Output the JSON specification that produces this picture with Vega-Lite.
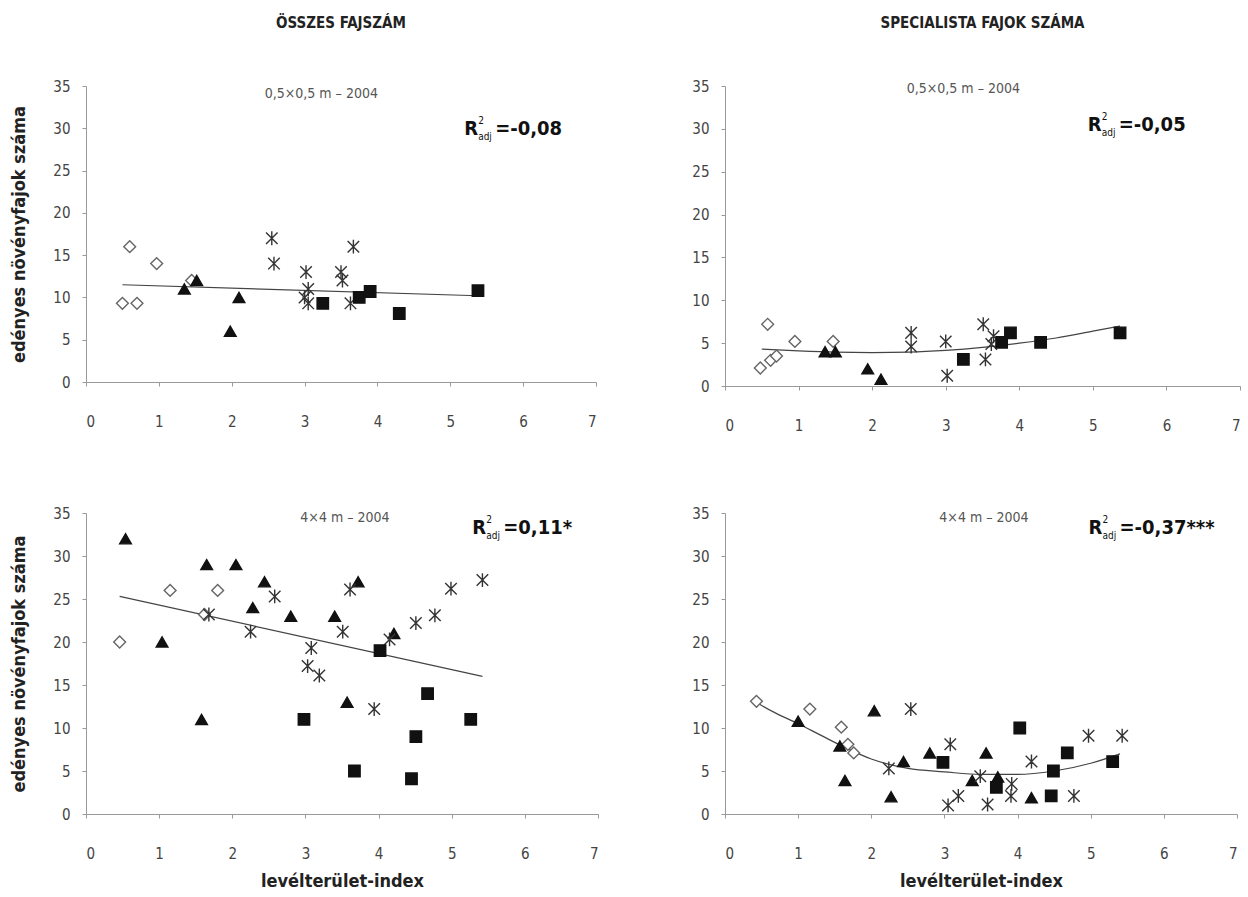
{
  "$schema": "https://vega.github.io/schema/vega-lite/v6.json",
  "background": "white",
  "padding": {"left": 10, "top": 16, "right": 5, "bottom": 5},
  "config": {
    "view": {"stroke": null},
    "font": "DejaVu Sans Condensed, Liberation Sans Narrow, sans-serif",
    "axis": {
      "grid": false,
      "domainColor": "#999999",
      "tickColor": "#999999",
      "tickSize": 4,
      "labelColor": "#444444",
      "labelFont": "DejaVu Sans Condensed, Liberation Sans Narrow, sans-serif",
      "labelFontSize": 15,
      "titleFont": "DejaVu Sans Condensed, Liberation Sans Narrow, sans-serif",
      "titleFontWeight": "bold",
      "titleFontSize": 18,
      "titleColor": "#222222"
    },
    "axisX": {"labelPadding": 28, "titlePadding": 11, "format": "d"},
    "axisY": {"labelPadding": 12, "titlePadding": 24},
    "title": {
      "font": "DejaVu Sans Condensed, Liberation Sans Narrow, sans-serif",
      "fontSize": 15,
      "fontWeight": "bold",
      "color": "#222222",
      "anchor": "middle",
      "offset": 48
    }
  },
  "datasets": {
    "tl": [
      {"lai": 0.6, "n": 16, "grp": "g1"},
      {"lai": 0.97, "n": 14, "grp": "g1"},
      {"lai": 0.5, "n": 9.3, "grp": "g1"},
      {"lai": 0.7, "n": 9.3, "grp": "g1"},
      {"lai": 1.45, "n": 12, "grp": "g1"},
      {"lai": 1.35, "n": 11, "grp": "g2"},
      {"lai": 1.52, "n": 12, "grp": "g2"},
      {"lai": 2.1, "n": 10, "grp": "g2"},
      {"lai": 1.98, "n": 6, "grp": "g2"},
      {"lai": 2.55, "n": 17, "grp": "g3"},
      {"lai": 2.58, "n": 14, "grp": "g3"},
      {"lai": 3.02, "n": 13, "grp": "g3"},
      {"lai": 3.05, "n": 11, "grp": "g3"},
      {"lai": 3.0, "n": 10, "grp": "g3"},
      {"lai": 3.05, "n": 9.3, "grp": "g3"},
      {"lai": 3.5, "n": 13, "grp": "g3"},
      {"lai": 3.52, "n": 12, "grp": "g3"},
      {"lai": 3.67, "n": 16, "grp": "g3"},
      {"lai": 3.63, "n": 9.3, "grp": "g3"},
      {"lai": 3.25, "n": 9.3, "grp": "g4"},
      {"lai": 3.75, "n": 10, "grp": "g4"},
      {"lai": 3.9, "n": 10.7, "grp": "g4"},
      {"lai": 4.3, "n": 8.1, "grp": "g4"},
      {"lai": 5.38, "n": 10.8, "grp": "g4"}
    ],
    "tlfit": [
      {"lai": 0.5, "n": 11.5},
      {"lai": 5.38, "n": 10.2}
    ],
    "tr": [
      {"lai": 0.58, "n": 7.2, "grp": "g1"},
      {"lai": 0.48, "n": 2.1, "grp": "g1"},
      {"lai": 0.62, "n": 3.0, "grp": "g1"},
      {"lai": 0.7, "n": 3.5, "grp": "g1"},
      {"lai": 0.95, "n": 5.2, "grp": "g1"},
      {"lai": 1.47, "n": 5.2, "grp": "g1"},
      {"lai": 1.36, "n": 4, "grp": "g2"},
      {"lai": 1.5, "n": 4, "grp": "g2"},
      {"lai": 1.94, "n": 2, "grp": "g2"},
      {"lai": 2.12, "n": 0.8, "grp": "g2"},
      {"lai": 2.53, "n": 6.2, "grp": "g3"},
      {"lai": 2.53, "n": 4.6, "grp": "g3"},
      {"lai": 3.0, "n": 5.2, "grp": "g3"},
      {"lai": 3.02, "n": 1.2, "grp": "g3"},
      {"lai": 3.51, "n": 7.2, "grp": "g3"},
      {"lai": 3.65, "n": 5.8, "grp": "g3"},
      {"lai": 3.54, "n": 3.1, "grp": "g3"},
      {"lai": 3.62, "n": 4.9, "grp": "g3"},
      {"lai": 3.24, "n": 3.1, "grp": "g4"},
      {"lai": 3.76, "n": 5.1, "grp": "g4"},
      {"lai": 3.88, "n": 6.2, "grp": "g4"},
      {"lai": 4.29, "n": 5.1, "grp": "g4"},
      {"lai": 5.37, "n": 6.2, "grp": "g4"}
    ],
    "trfit": [
      {"lai": 0.5, "n": 4.3},
      {"lai": 1.0, "n": 4.1},
      {"lai": 1.5, "n": 3.95},
      {"lai": 2.0, "n": 3.9},
      {"lai": 2.5, "n": 3.95},
      {"lai": 3.0, "n": 4.15},
      {"lai": 3.5, "n": 4.5},
      {"lai": 4.0, "n": 5.0},
      {"lai": 4.5, "n": 5.6},
      {"lai": 5.0, "n": 6.4},
      {"lai": 5.37, "n": 7.0}
    ],
    "bl": [
      {"lai": 0.46, "n": 20, "grp": "g1"},
      {"lai": 1.15, "n": 26, "grp": "g1"},
      {"lai": 1.8, "n": 26, "grp": "g1"},
      {"lai": 1.62, "n": 23.2, "grp": "g1"},
      {"lai": 0.54, "n": 32, "grp": "g2"},
      {"lai": 1.04, "n": 20, "grp": "g2"},
      {"lai": 1.65, "n": 29, "grp": "g2"},
      {"lai": 2.05, "n": 29, "grp": "g2"},
      {"lai": 2.44, "n": 27, "grp": "g2"},
      {"lai": 2.28, "n": 24, "grp": "g2"},
      {"lai": 2.8, "n": 23, "grp": "g2"},
      {"lai": 3.4, "n": 23, "grp": "g2"},
      {"lai": 3.72, "n": 27, "grp": "g2"},
      {"lai": 4.21, "n": 21, "grp": "g2"},
      {"lai": 1.58, "n": 11, "grp": "g2"},
      {"lai": 3.57, "n": 13, "grp": "g2"},
      {"lai": 2.58, "n": 25.3, "grp": "g3"},
      {"lai": 2.25, "n": 21.2, "grp": "g3"},
      {"lai": 3.08, "n": 19.3, "grp": "g3"},
      {"lai": 3.03, "n": 17.2, "grp": "g3"},
      {"lai": 3.19, "n": 16.1, "grp": "g3"},
      {"lai": 3.51, "n": 21.2, "grp": "g3"},
      {"lai": 3.61, "n": 26.1, "grp": "g3"},
      {"lai": 3.94, "n": 12.2, "grp": "g3"},
      {"lai": 4.51, "n": 22.2, "grp": "g3"},
      {"lai": 4.77, "n": 23.1, "grp": "g3"},
      {"lai": 4.99, "n": 26.2, "grp": "g3"},
      {"lai": 5.42, "n": 27.2, "grp": "g3"},
      {"lai": 1.68, "n": 23.2, "grp": "g3"},
      {"lai": 4.15, "n": 20.3, "grp": "g3"},
      {"lai": 4.02, "n": 19, "grp": "g4"},
      {"lai": 2.98, "n": 11, "grp": "g4"},
      {"lai": 3.67, "n": 5, "grp": "g4"},
      {"lai": 4.67, "n": 14, "grp": "g4"},
      {"lai": 4.51, "n": 9, "grp": "g4"},
      {"lai": 4.45, "n": 4.1, "grp": "g4"},
      {"lai": 5.26, "n": 11, "grp": "g4"}
    ],
    "blfit": [
      {"lai": 0.46, "n": 25.3},
      {"lai": 5.42, "n": 16.0}
    ],
    "br": [
      {"lai": 0.43, "n": 13.1, "grp": "g1"},
      {"lai": 1.16, "n": 12.2, "grp": "g1"},
      {"lai": 1.59, "n": 10.1, "grp": "g1"},
      {"lai": 1.68, "n": 8.1, "grp": "g1"},
      {"lai": 1.76, "n": 7.1, "grp": "g1"},
      {"lai": 1.0, "n": 10.8, "grp": "g2"},
      {"lai": 1.57, "n": 7.9, "grp": "g2"},
      {"lai": 1.64, "n": 3.9, "grp": "g2"},
      {"lai": 2.04, "n": 12, "grp": "g2"},
      {"lai": 2.27, "n": 2, "grp": "g2"},
      {"lai": 2.44, "n": 6.1, "grp": "g2"},
      {"lai": 2.8, "n": 7.1, "grp": "g2"},
      {"lai": 3.38, "n": 3.9, "grp": "g2"},
      {"lai": 3.57, "n": 7.1, "grp": "g2"},
      {"lai": 3.73, "n": 4.3, "grp": "g2"},
      {"lai": 4.19, "n": 1.9, "grp": "g2"},
      {"lai": 2.54, "n": 12.2, "grp": "g3"},
      {"lai": 2.24, "n": 5.3, "grp": "g3"},
      {"lai": 3.08, "n": 8.1, "grp": "g3"},
      {"lai": 3.05, "n": 1.0, "grp": "g3"},
      {"lai": 3.19, "n": 2.1, "grp": "g3"},
      {"lai": 3.49, "n": 4.4, "grp": "g3"},
      {"lai": 3.59, "n": 1.1, "grp": "g3"},
      {"lai": 3.92, "n": 3.5, "grp": "g3"},
      {"lai": 3.91, "n": 2.1, "grp": "g3"},
      {"lai": 4.19, "n": 6.1, "grp": "g3"},
      {"lai": 4.77, "n": 2.1, "grp": "g3"},
      {"lai": 4.97, "n": 9.1, "grp": "g3"},
      {"lai": 5.43, "n": 9.1, "grp": "g3"},
      {"lai": 2.98, "n": 6, "grp": "g4"},
      {"lai": 3.71, "n": 3.1, "grp": "g4"},
      {"lai": 4.03, "n": 10, "grp": "g4"},
      {"lai": 4.49, "n": 5, "grp": "g4"},
      {"lai": 4.46, "n": 2.1, "grp": "g4"},
      {"lai": 4.68, "n": 7.1, "grp": "g4"},
      {"lai": 5.3, "n": 6.1, "grp": "g4"}
    ],
    "brfit": [
      {"lai": 0.4, "n": 13.1},
      {"lai": 0.7, "n": 11.7},
      {"lai": 1.0, "n": 10.5},
      {"lai": 1.3, "n": 9.2},
      {"lai": 1.6, "n": 7.9},
      {"lai": 2.0, "n": 6.4},
      {"lai": 2.5, "n": 5.3},
      {"lai": 3.0, "n": 4.9},
      {"lai": 3.5, "n": 4.6},
      {"lai": 4.0, "n": 4.6},
      {"lai": 4.5, "n": 5.0},
      {"lai": 5.0, "n": 5.9},
      {"lai": 5.4, "n": 7.0}
    ]
  },
  "spacing": 73,
  "vconcat": [
    {
      "spacing": 94,
      "hconcat": [
        {
          "width": 510,
          "height": 296,
          "title": {"text": "ÖSSZES FAJSZÁM"},
          "layer": [
            {
              "data": {"name": "tlfit"},
              "mark": {"type": "line", "color": "#444444", "strokeWidth": 1.2},
              "encoding": {
                "x": {"field": "lai", "type": "quantitative", "scale": {"domain": [0, 7], "nice": false}, "axis": {"values": [0, 1, 2, 3, 4, 5, 6, 7], "title": null}},
                "y": {"field": "n", "type": "quantitative", "scale": {"domain": [0, 35], "nice": false}, "axis": {"values": [0, 5, 10, 15, 20, 25, 30, 35], "title": "edényes növényfajok száma"}}
              }
            },
            {
              "data": {"name": "tl"},
              "mark": {"type": "point", "filled": true, "strokeWidth": 1.4, "opacity": 1},
              "encoding": {
                "x": {"field": "lai", "type": "quantitative"},
                "y": {"field": "n", "type": "quantitative"},
                "shape": {"field": "grp", "type": "nominal", "scale": {"domain": ["g1", "g2", "g3", "g4"], "range": ["diamond", "triangle-up", "M-1,-1L1,1M-1,1L1,-1M0,-1.2L0,1.2", "square"]}, "legend": null},
                "fill": {"field": "grp", "type": "nominal", "scale": {"domain": ["g1", "g2", "g3", "g4"], "range": ["#ffffff", "#111111", "#111111", "#111111"]}, "legend": null},
                "stroke": {"field": "grp", "type": "nominal", "scale": {"domain": ["g1", "g2", "g3", "g4"], "range": ["#666666", "#111111", "#333333", "#111111"]}, "legend": null},
                "size": {"field": "grp", "type": "nominal", "scale": {"domain": ["g1", "g2", "g3", "g4"], "range": [140, 130, 110, 150]}, "legend": null}
              }
            },
            {
              "data": {"values": [{"label": "0,5×0,5 m – 2004"}]},
              "mark": {"type": "text", "fontSize": 14, "color": "#555555", "align": "center", "baseline": "middle"},
              "encoding": {"x": {"datum": 3.23}, "y": {"datum": 34.1}, "text": {"field": "label"}}
            },
            {
              "data": {"values": [{"r": "R", "sup": "2", "sub": "adj", "val": "=-0,08"}]},
              "encoding": {"x": {"datum": 5.19}, "y": {"datum": 29.9}},
              "layer": [
                {"mark": {"type": "text", "fontSize": 20, "fontWeight": "bold", "color": "#111111", "align": "left", "baseline": "middle"}, "encoding": {"text": {"field": "r"}}},
                {"mark": {"type": "text", "fontSize": 10, "color": "#111111", "align": "left", "baseline": "middle", "dx": 14, "dy": -8}, "encoding": {"text": {"field": "sup"}}},
                {"mark": {"type": "text", "fontSize": 10, "color": "#111111", "align": "left", "baseline": "middle", "dx": 14, "dy": 8}, "encoding": {"text": {"field": "sub"}}},
                {"mark": {"type": "text", "fontSize": 20, "fontWeight": "bold", "color": "#111111", "align": "left", "baseline": "middle", "dx": 31}, "encoding": {"text": {"field": "val"}}}
              ]
            }
          ]
        },
        {
          "width": 515,
          "height": 300,
          "title": {"text": "SPECIALISTA FAJOK SZÁMA"},
          "layer": [
            {
              "data": {"name": "trfit"},
              "mark": {"type": "line", "color": "#444444", "strokeWidth": 1.2, "interpolate": "monotone"},
              "encoding": {
                "x": {"field": "lai", "type": "quantitative", "scale": {"domain": [0, 7], "nice": false}, "axis": {"values": [0, 1, 2, 3, 4, 5, 6, 7], "title": null}},
                "y": {"field": "n", "type": "quantitative", "scale": {"domain": [0, 35], "nice": false}, "axis": {"values": [0, 5, 10, 15, 20, 25, 30, 35], "title": null}}
              }
            },
            {
              "data": {"name": "tr"},
              "mark": {"type": "point", "filled": true, "strokeWidth": 1.4, "opacity": 1},
              "encoding": {
                "x": {"field": "lai", "type": "quantitative"},
                "y": {"field": "n", "type": "quantitative"},
                "shape": {"field": "grp", "type": "nominal", "scale": {"domain": ["g1", "g2", "g3", "g4"], "range": ["diamond", "triangle-up", "M-1,-1L1,1M-1,1L1,-1M0,-1.2L0,1.2", "square"]}, "legend": null},
                "fill": {"field": "grp", "type": "nominal", "scale": {"domain": ["g1", "g2", "g3", "g4"], "range": ["#ffffff", "#111111", "#111111", "#111111"]}, "legend": null},
                "stroke": {"field": "grp", "type": "nominal", "scale": {"domain": ["g1", "g2", "g3", "g4"], "range": ["#666666", "#111111", "#333333", "#111111"]}, "legend": null},
                "size": {"field": "grp", "type": "nominal", "scale": {"domain": ["g1", "g2", "g3", "g4"], "range": [140, 130, 110, 150]}, "legend": null}
              }
            },
            {
              "data": {"values": [{"label": "0,5×0,5 m – 2004"}]},
              "mark": {"type": "text", "fontSize": 14, "color": "#555555", "align": "center", "baseline": "middle"},
              "encoding": {"x": {"datum": 3.24}, "y": {"datum": 34.6}, "text": {"field": "label"}}
            },
            {
              "data": {"values": [{"r": "R", "sup": "2", "sub": "adj", "val": "=-0,05"}]},
              "encoding": {"x": {"datum": 4.93}, "y": {"datum": 30.4}},
              "layer": [
                {"mark": {"type": "text", "fontSize": 20, "fontWeight": "bold", "color": "#111111", "align": "left", "baseline": "middle"}, "encoding": {"text": {"field": "r"}}},
                {"mark": {"type": "text", "fontSize": 10, "color": "#111111", "align": "left", "baseline": "middle", "dx": 14, "dy": -8}, "encoding": {"text": {"field": "sup"}}},
                {"mark": {"type": "text", "fontSize": 10, "color": "#111111", "align": "left", "baseline": "middle", "dx": 14, "dy": 8}, "encoding": {"text": {"field": "sub"}}},
                {"mark": {"type": "text", "fontSize": 20, "fontWeight": "bold", "color": "#111111", "align": "left", "baseline": "middle", "dx": 31}, "encoding": {"text": {"field": "val"}}}
              ]
            }
          ]
        }
      ]
    },
    {
      "spacing": 92,
      "hconcat": [
        {
          "width": 512,
          "height": 301,
          "layer": [
            {
              "data": {"name": "blfit"},
              "mark": {"type": "line", "color": "#444444", "strokeWidth": 1.2},
              "encoding": {
                "x": {"field": "lai", "type": "quantitative", "scale": {"domain": [0, 7], "nice": false}, "axis": {"values": [0, 1, 2, 3, 4, 5, 6, 7], "title": "levélterület-index"}},
                "y": {"field": "n", "type": "quantitative", "scale": {"domain": [0, 35], "nice": false}, "axis": {"values": [0, 5, 10, 15, 20, 25, 30, 35], "title": "edényes növényfajok száma"}}
              }
            },
            {
              "data": {"name": "bl"},
              "mark": {"type": "point", "filled": true, "strokeWidth": 1.4, "opacity": 1},
              "encoding": {
                "x": {"field": "lai", "type": "quantitative"},
                "y": {"field": "n", "type": "quantitative"},
                "shape": {"field": "grp", "type": "nominal", "scale": {"domain": ["g1", "g2", "g3", "g4"], "range": ["diamond", "triangle-up", "M-1,-1L1,1M-1,1L1,-1M0,-1.2L0,1.2", "square"]}, "legend": null},
                "fill": {"field": "grp", "type": "nominal", "scale": {"domain": ["g1", "g2", "g3", "g4"], "range": ["#ffffff", "#111111", "#111111", "#111111"]}, "legend": null},
                "stroke": {"field": "grp", "type": "nominal", "scale": {"domain": ["g1", "g2", "g3", "g4"], "range": ["#666666", "#111111", "#333333", "#111111"]}, "legend": null},
                "size": {"field": "grp", "type": "nominal", "scale": {"domain": ["g1", "g2", "g3", "g4"], "range": [140, 130, 110, 150]}, "legend": null}
              }
            },
            {
              "data": {"values": [{"label": "4×4 m – 2004"}]},
              "mark": {"type": "text", "fontSize": 14, "color": "#555555", "align": "center", "baseline": "middle"},
              "encoding": {"x": {"datum": 3.54}, "y": {"datum": 34.4}, "text": {"field": "label"}}
            },
            {
              "data": {"values": [{"r": "R", "sup": "2", "sub": "adj", "val": "=0,11*"}]},
              "encoding": {"x": {"datum": 5.28}, "y": {"datum": 33.3}},
              "layer": [
                {"mark": {"type": "text", "fontSize": 20, "fontWeight": "bold", "color": "#111111", "align": "left", "baseline": "middle"}, "encoding": {"text": {"field": "r"}}},
                {"mark": {"type": "text", "fontSize": 10, "color": "#111111", "align": "left", "baseline": "middle", "dx": 14, "dy": -8}, "encoding": {"text": {"field": "sup"}}},
                {"mark": {"type": "text", "fontSize": 10, "color": "#111111", "align": "left", "baseline": "middle", "dx": 14, "dy": 8}, "encoding": {"text": {"field": "sub"}}},
                {"mark": {"type": "text", "fontSize": 20, "fontWeight": "bold", "color": "#111111", "align": "left", "baseline": "middle", "dx": 31}, "encoding": {"text": {"field": "val"}}}
              ]
            }
          ]
        },
        {
          "width": 512,
          "height": 301,
          "layer": [
            {
              "data": {"name": "brfit"},
              "mark": {"type": "line", "color": "#444444", "strokeWidth": 1.2, "interpolate": "monotone"},
              "encoding": {
                "x": {"field": "lai", "type": "quantitative", "scale": {"domain": [0, 7], "nice": false}, "axis": {"values": [0, 1, 2, 3, 4, 5, 6, 7], "title": "levélterület-index"}},
                "y": {"field": "n", "type": "quantitative", "scale": {"domain": [0, 35], "nice": false}, "axis": {"values": [0, 5, 10, 15, 20, 25, 30, 35], "title": null}}
              }
            },
            {
              "data": {"name": "br"},
              "mark": {"type": "point", "filled": true, "strokeWidth": 1.4, "opacity": 1},
              "encoding": {
                "x": {"field": "lai", "type": "quantitative"},
                "y": {"field": "n", "type": "quantitative"},
                "shape": {"field": "grp", "type": "nominal", "scale": {"domain": ["g1", "g2", "g3", "g4"], "range": ["diamond", "triangle-up", "M-1,-1L1,1M-1,1L1,-1M0,-1.2L0,1.2", "square"]}, "legend": null},
                "fill": {"field": "grp", "type": "nominal", "scale": {"domain": ["g1", "g2", "g3", "g4"], "range": ["#ffffff", "#111111", "#111111", "#111111"]}, "legend": null},
                "stroke": {"field": "grp", "type": "nominal", "scale": {"domain": ["g1", "g2", "g3", "g4"], "range": ["#666666", "#111111", "#333333", "#111111"]}, "legend": null},
                "size": {"field": "grp", "type": "nominal", "scale": {"domain": ["g1", "g2", "g3", "g4"], "range": [140, 130, 110, 150]}, "legend": null}
              }
            },
            {
              "data": {"values": [{"label": "4×4 m – 2004"}]},
              "mark": {"type": "text", "fontSize": 14, "color": "#555555", "align": "center", "baseline": "middle"},
              "encoding": {"x": {"datum": 3.54}, "y": {"datum": 34.4}, "text": {"field": "label"}}
            },
            {
              "data": {"values": [{"r": "R", "sup": "2", "sub": "adj", "val": "=-0,37***"}]},
              "encoding": {"x": {"datum": 4.97}, "y": {"datum": 33.3}},
              "layer": [
                {"mark": {"type": "text", "fontSize": 20, "fontWeight": "bold", "color": "#111111", "align": "left", "baseline": "middle"}, "encoding": {"text": {"field": "r"}}},
                {"mark": {"type": "text", "fontSize": 10, "color": "#111111", "align": "left", "baseline": "middle", "dx": 14, "dy": -8}, "encoding": {"text": {"field": "sup"}}},
                {"mark": {"type": "text", "fontSize": 10, "color": "#111111", "align": "left", "baseline": "middle", "dx": 14, "dy": 8}, "encoding": {"text": {"field": "sub"}}},
                {"mark": {"type": "text", "fontSize": 20, "fontWeight": "bold", "color": "#111111", "align": "left", "baseline": "middle", "dx": 31}, "encoding": {"text": {"field": "val"}}}
              ]
            }
          ]
        }
      ]
    }
  ]
}
